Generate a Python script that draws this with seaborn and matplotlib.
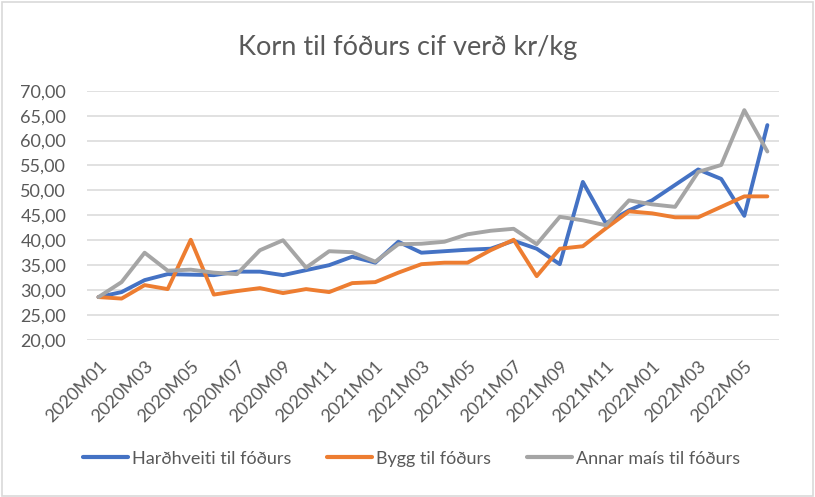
import matplotlib
matplotlib.use("Agg")
import matplotlib.pyplot as plt
import matplotlib.patches as mpatches
import seaborn as sns
import pandas as pd

months = [f"{y}M{m:02d}" for y in (2020, 2021, 2022) for m in range(1, 13)][:30]

hardhveiti = [28.6, 29.6, 32.0, 33.2, 33.1, 33.0, 33.7, 33.7, 33.0, 34.0,
              35.0, 36.7, 35.5, 39.7, 37.5, 37.8, 38.1, 38.3, 39.9, 38.3,
              35.2, 51.7, 43.4, 46.0, 48.0, 51.1, 54.2, 52.3, 44.9, 63.1]
bygg = [28.6, 28.3, 31.0, 30.2, 40.1, 29.1, 29.8, 30.4, 29.4, 30.2,
        29.6, 31.4, 31.6, 33.5, 35.2, 35.5, 35.5, 38.0, 40.1, 32.8,
        38.3, 38.8, 42.4, 45.8, 45.4, 44.6, 44.6, 46.7, 48.8, 48.8]
mais = [28.6, 31.6, 37.5, 33.9, 34.1, 33.5, 33.2, 38.0, 40.0, 34.5,
        37.8, 37.6, 35.7, 39.2, 39.3, 39.7, 41.2, 41.9, 42.3, 39.2,
        44.7, 44.0, 43.0, 48.0, 47.2, 46.7, 53.7, 55.1, 66.1, 57.8]

series_names = ["Harðhveiti til fóðurs", "Bygg til fóðurs", "Annar maís til fóðurs"]
colors = ["#4472C4", "#ED7D31", "#A5A5A5"]
title = "Korn til fóðurs cif verð kr/kg"
y_ticks = [20, 25, 30, 35, 40, 45, 50, 55, 60, 65, 70]

rows = []
for name, vals in zip(series_names, [hardhveiti, bygg, mais]):
    for i, (m, v) in enumerate(zip(months, vals)):
        rows.append({"idx": i, "month": m, "value": v, "series": name})
df = pd.DataFrame(rows)

sns.set_theme(style="white")
plt.rcParams["font.family"] = ["Lato", "DejaVu Sans"]

fig = plt.figure(figsize=(8.15, 4.97), dpi=100)
ax = fig.add_axes([0.1067, 0.316, 0.849, 0.5015])

sns.lineplot(data=df, x="idx", y="value", hue="series", hue_order=series_names,
             palette=colors, linewidth=2.8, ax=ax, legend=True)

ax.set_xlim(-0.5, 29.5)
ax.set_ylim(20, 70)
ax.set_yticks(y_ticks)
ax.set_yticklabels([f"{t:.2f}".replace(".", ",") for t in y_ticks],
                   fontsize=13, color="#595959")
ax.set_xticks(range(0, 30, 2))
ax.set_xticklabels(months[::2], rotation=45, ha="right", rotation_mode="anchor",
                   fontsize=13, color="#595959")
ax.tick_params(axis="x", length=0, pad=13)
ax.tick_params(axis="y", length=0, pad=15)
ax.grid(axis="y", color="#D9D9D9", linewidth=1.1)
ax.set_axisbelow(True)
for s in ax.spines.values():
    s.set_visible(False)
ax.set_xlabel("")
ax.set_ylabel("")

fig.text(0.5, 0.905, title, ha="center", va="center", fontsize=19.5, color="#595959")

handles, labels = ax.get_legend_handles_labels()
ax.legend(handles, labels, loc="center", bbox_to_anchor=(0.505, 0.077),
          bbox_transform=fig.transFigure, ncol=3, frameon=False,
          fontsize=13, labelcolor="#595959", handlelength=2.5,
          handletextpad=0.2, columnspacing=2.0)
for line in ax.get_legend().get_lines():
    line.set_linewidth(3)

fig.patches.append(mpatches.Rectangle((0.002, 0.003), 0.995, 0.993,
                                      transform=fig.transFigure, fill=False,
                                      edgecolor="#D9D9D9", linewidth=1.2))

fig.savefig("out.png", dpi=100)
